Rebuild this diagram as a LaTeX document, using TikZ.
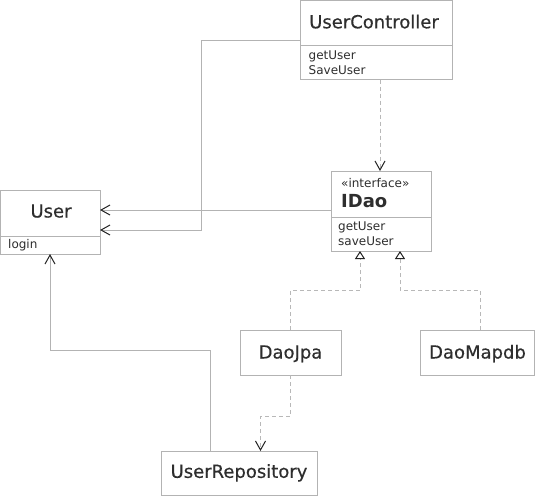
\documentclass[tikz,border=0pt]{standalone}
\usepackage{fontspec}
\setmainfont{DejaVu Sans}
\newfontfamily\titlefont[FakeBold=0.4]{DejaVu Sans}
\usetikzlibrary{arrows.meta}
\definecolor{boxgray}{HTML}{B3B3B3}
\definecolor{dashgray}{HTML}{B8B8B8}
\definecolor{txt}{HTML}{2E2E2E}
\definecolor{tipc}{HTML}{222222}
\tikzset{
  umlbox/.style={draw=boxgray, line width=1pt, fill=white, inner sep=0pt, outer sep=0pt, rectangle},
  divider/.style={draw=boxgray, line width=1pt},
  titletxt/.style={inner sep=0pt, text=txt, font=\titlefont\fontsize{18}{20}\selectfont, anchor=base},
  boldtxt/.style={inner sep=0pt, text=txt, font=\fontsize{18}{20}\selectfont\bfseries, anchor=base west},
  smalltxt/.style={inner sep=0pt, text=txt, font=\fontsize{12}{15}\selectfont, anchor=base west},
  assoc/.style={draw=boxgray, line width=1pt, -{Straight Barb[length=9pt,width=10pt,color=tipc]}},
  depend/.style={draw=dashgray, line width=1pt, dash pattern=on 4pt off 3pt, -{Straight Barb[length=9pt,width=10pt,color=tipc]}},
  realize/.style={draw=dashgray, line width=1pt, dash pattern=on 4pt off 3pt, -{Triangle[length=8pt,width=10pt,color=tipc,fill=white,line width=1pt]}},
}
\begin{document}
\begin{tikzpicture}[x=1pt,y=-1pt]
\useasboundingbox (0,0) rectangle (535,496);
% boxes
\node[umlbox, minimum width=152pt, minimum height=79pt] (uc) at (376,40) {};
\node[umlbox, minimum width=100pt, minimum height=80pt] (idao) at (381,211) {};
\node[umlbox, minimum width=99.5pt, minimum height=64pt] (user) at (50.25,222) {};
\node[umlbox, minimum width=101pt, minimum height=45pt] (daojpa) at (290.5,352.5) {};
\node[umlbox, minimum width=114.5pt, minimum height=45pt] (daomapdb) at (477.25,352.5) {};
\node[umlbox, minimum width=156pt, minimum height=44.5pt] (repo) at (239,473.25) {};
% dividers
\draw[divider] (uc.west |- 0,45) -- (uc.east |- 0,45);
\draw[divider] (idao.west |- 0,217) -- (idao.east |- 0,217);
\draw[divider] (user.west |- 0,236) -- (user.east |- 0,236);
% texts
\node[titletxt] (uct) at (374,28.3) {UserController};
\node[smalltxt] (uca1) at (308.5,59) {getUser};
\node[smalltxt] (uca2) at (308.5,74) {SaveUser};
\node[smalltxt] (idst) at (341,187) {«interface»};
\node[boldtxt] (idt) at (341,207.5) {IDao};
\node[smalltxt] (ida1) at (338,230.5) {getUser};
\node[smalltxt] (ida2) at (338,245.5) {saveUser};
\node[titletxt] (usert) at (51,217.5) {User};
\node[smalltxt] (usera1) at (8,248) {login};
\node[titletxt] (djt) at (290.5,358.5) {DaoJpa};
\node[titletxt] (dmt) at (477.5,358.5) {DaoMapdb};
\node[titletxt] (rpt) at (239,477.8) {UserRepository};
% connectors
\draw[assoc] (uc.west |- 0,40.5) -- (201,40.5) -- (201,230) -- (user.east |- 0,230);
\draw[assoc] (idao.west |- 0,210) -- (user.east |- 0,210);
\draw[depend] (uc.south -| 380,0) -- (idao.north -| 380,0);
\draw[realize] (daojpa.north -| 290.5,0) -- (290.5,290.5) -- (360,290.5) -- (idao.south -| 360,0);
\draw[realize] (daomapdb.north -| 480,0) -- (480,290.5) -- (400,290.5) -- (idao.south -| 400,0);
\draw[depend] (daojpa.south -| 290.5,0) -- (290.5,416) -- (260.5,416) -- (repo.north -| 260.5,0);
\draw[assoc] (repo.north -| 210,0) -- (210,350) -- (50,350) -- (user.south -| 50,0);
\end{tikzpicture}
\end{document}
